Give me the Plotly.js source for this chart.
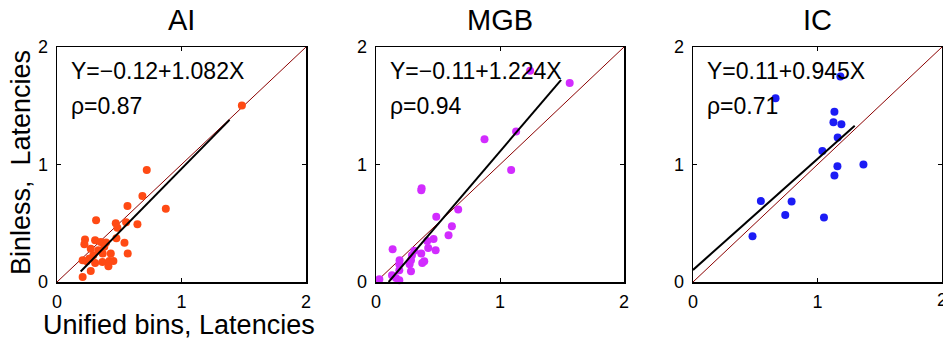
<!DOCTYPE html>
<html>
<head>
<meta charset="utf-8">
<script src="https://cdn.plot.ly/plotly-3.0.1.min.js"></script>
<style>html,body{margin:0;padding:0;background:#fff}#chart{width:943px;height:345px}</style>
</head>
<body>
<div id="chart"></div>
<script>
// ---- data ----
const panelTitles = ["AI", "MGB", "IC"];
const eqLabels = ["Y=\u22120.12+1.082X", "Y=\u22120.11+1.224X", "Y=0.11+0.945X"];
const rhoLabels = ["\u03c1=0.87", "\u03c1=0.94", "\u03c1=0.71"];
const tickVals = [0, 1, 2];
const tickText = ["0", "1", "2"];
const xTitle = "Unified bins, Latencies";
const yTitle = "Binless,  Latencies";

const aiX = [1.485, 0.721, 0.686, 0.874, 0.566, 0.646, 0.555, 0.472, 0.485, 0.314, 0.477, 0.542, 0.568,
             0.225, 0.220, 0.306, 0.351, 0.394, 0.271, 0.332, 0.367, 0.432, 0.292, 0.206, 0.239, 0.306,
             0.365, 0.421, 0.453, 0.413, 0.271, 0.206, 0.26, 0.38];
const aiY = [1.502, 0.953, 0.731, 0.623, 0.646, 0.492, 0.509, 0.501, 0.461, 0.526, 0.373, 0.333, 0.242,
             0.361, 0.321, 0.356, 0.341, 0.336, 0.284, 0.270, 0.242, 0.242, 0.228, 0.185, 0.176, 0.162,
             0.171, 0.179, 0.179, 0.134, 0.094, 0.043, 0.20, 0.30];

const mgbX = [1.243, 1.562, 1.130, 0.875, 1.090, 0.368, 0.365, 0.663, 0.486, 0.612, 0.585, 0.464, 0.413,
              0.421, 0.481, 0.365, 0.389, 0.373, 0.134, 0.309, 0.290, 0.282, 0.271, 0.188, 0.188, 0.282,
              0.129, 0.161, 0.188, 0.027, 0.19];
const mgbY = [1.798, 1.693, 1.280, 1.215, 0.953, 0.797, 0.780, 0.617, 0.555, 0.475, 0.398, 0.367, 0.350,
              0.290, 0.270, 0.242, 0.176, 0.162, 0.279, 0.265, 0.228, 0.185, 0.151, 0.151, 0.100, 0.091,
              0.057, 0.034, 0.014, 0.023, 0.185];

const icX = [1.184, 0.663, 1.136, 1.128, 1.192, 1.162, 1.039, 1.160, 1.369, 1.136, 0.545, 0.792, 0.741, 1.052, 0.478];
const icY = [1.749, 1.563, 1.449, 1.360, 1.343, 1.229, 1.114, 0.986, 1.000, 0.906, 0.689, 0.686, 0.571, 0.549, 0.389];

// regression line endpoints
const aiFitX = [0.19, 1.386];
const aiFitY = [0.09, 1.38];
const mgbFitX = [0.102, 1.493];
const mgbFitY = [0.0, 1.721];
const icFitX = [0.0, 1.299];
const icFitY = [0.103, 1.329];

// identity line
const diagX = [0, 2];
const diagY = [0, 2];

// ---- styling ----
const colors = ["#ff4a14", "#d22cff", "#1c1cf5"];
const W = 943, H = 345;
const xPix = [[57, 306], [376, 624], [693, 942]];
const yTop = 47, yBot = 282;
const FONT = "Liberation Sans, Arial, sans-serif";

const xs = [aiX, mgbX, icX], ys = [aiY, mgbY, icY];
const fx = [aiFitX, mgbFitX, icFitX], fy = [aiFitY, mgbFitY, icFitY];

const traces = [];
const layout = {
  width: W, height: H,
  margin: {l: 0, r: 0, t: 0, b: 0},
  paper_bgcolor: "#fff", plot_bgcolor: "#fff",
  showlegend: false,
  font: {family: FONT, color: "#000"},
  annotations: []
};

for (let i = 0; i < 3; i++) {
  const sx = i === 0 ? "" : String(i + 1);
  const xa = "x" + sx, ya = "y" + sx;
  traces.push({x: diagX, y: diagY, xaxis: xa, yaxis: ya, mode: "lines",
               line: {color: "#8b0000", width: 1}, hoverinfo: "skip", cliponaxis: false});
  traces.push({x: xs[i], y: ys[i], xaxis: xa, yaxis: ya, mode: "markers",
               marker: {color: colors[i], size: 8, line: {width: 0}}, cliponaxis: false});
  traces.push({x: fx[i], y: fy[i], xaxis: xa, yaxis: ya, mode: "lines",
               line: {color: "#000", width: 2}});

  const axCommon = {
    range: [0, 2], tickvals: tickVals, ticktext: tickText,
    ticks: "inside", ticklen: 4, tickwidth: 1, tickcolor: "#000",
    showline: true, linecolor: "#000", linewidth: 1.5, mirror: "ticks",
    showgrid: false, zeroline: false, fixedrange: true,
    tickfont: {family: FONT, size: 18, color: "#000"}
  };
  layout["xaxis" + sx] = Object.assign({}, axCommon, {
    domain: [xPix[i][0] / W, xPix[i][1] / W], anchor: ya, ticklabelstandoff: 3
  });
  layout["yaxis" + sx] = Object.assign({}, axCommon, {
    domain: [1 - yBot / H, 1 - yTop / H], anchor: xa, ticklabelstandoff: 4
  });

  layout.annotations.push({
    text: panelTitles[i], xref: "paper", yref: "paper",
    x: (xPix[i][0] + xPix[i][1]) / 2 / W, y: 1 - 20 / H,
    xanchor: "center", yanchor: "middle", showarrow: false,
    font: {family: FONT, size: 29, color: "#000"}
  });
  layout.annotations.push({
    text: eqLabels[i], xref: xa, yref: ya, x: 0.1, y: 1.80,
    xanchor: "left", yanchor: "middle", showarrow: false,
    font: {family: FONT, size: 23, color: "#000"}
  });
  layout.annotations.push({
    text: rhoLabels[i], xref: xa, yref: ya, x: 0.1, y: 1.50,
    xanchor: "left", yanchor: "middle", showarrow: false,
    font: {family: FONT, size: 23, color: "#000"}
  });
}

// the IC panel's last x tick label sits at the page edge (partly cut in the reference)
layout.annotations.push({
  text: tickText[2], xref: "x3", yref: "paper", x: tickVals[2], y: 1 - 300 / H,
  xanchor: "center", yanchor: "middle", showarrow: false,
  font: {family: FONT, size: 18, color: "#000"}
});

layout.annotations.push({
  text: xTitle, xref: "paper", yref: "paper", x: 41 / W, y: 1 - 325 / H,
  xanchor: "left", yanchor: "middle", showarrow: false,
  font: {family: FONT, size: 27, color: "#000"}
});
layout.annotations.push({
  text: yTitle, xref: "paper", yref: "paper", x: 21 / W, y: 1 - 163 / H,
  xanchor: "center", yanchor: "middle", textangle: -90, showarrow: false,
  font: {family: FONT, size: 27, color: "#000"}
});

Plotly.newPlot("chart", traces, layout, {displayModeBar: false, staticPlot: true});
</script>
</body>
</html>
